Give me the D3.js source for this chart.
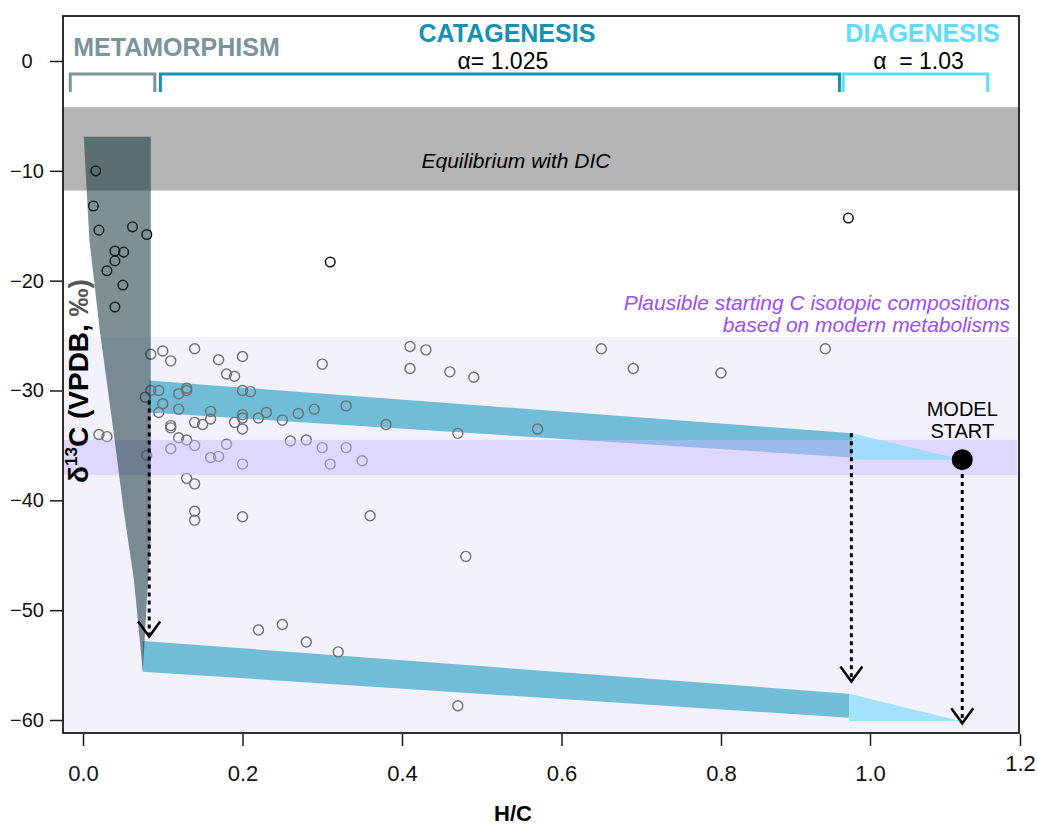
<!DOCTYPE html>
<meta charset="utf-8">
<style>
body { margin: 0; background: #fff; }
svg { display: block; font-family: "Liberation Sans", Arial, Helvetica, sans-serif; }
</style>
<svg width="1037" height="827"></svg>
<script src="https://cdn.jsdelivr.net/npm/d3@7"></script>
<script>

// sample compilation, H/C vs d13C (grey circles)
var sampleHc = [0.085, 0.10, 0.11, 0.14, 0.17, 0.20, 0.18, 0.19, 0.30,
  0.41, 0.43, 0.41, 0.46, 0.49, 0.65, 0.69, 0.80, 0.94,
  0.085, 0.095, 0.078, 0.12, 0.13, 0.13, 0.20, 0.21,
  0.10, 0.095, 0.12, 0.16, 0.16, 0.14, 0.15, 0.20, 0.20, 0.19, 0.20, 0.22, 0.23,
  0.25, 0.27, 0.29, 0.33, 0.38, 0.47, 0.57,
  0.11, 0.11, 0.12, 0.13, 0.14, 0.18, 0.26, 0.28,
  0.11, 0.08, 0.16, 0.17, 0.20, 0.30, 0.31, 0.33, 0.35,
  0.02, 0.03,
  0.13, 0.14, 0.14, 0.14, 0.20, 0.36, 0.48,
  0.22, 0.25, 0.28, 0.32, 0.47];
var sampleD13c = [-26.7, -26.4, -27.3, -26.2, -27.2, -26.9, -28.5, -28.7, -27.6,
  -26.0, -26.3, -28.0, -28.3, -28.8, -26.2, -28.0, -28.4, -26.2,
  -30.0, -30.0, -30.6, -30.3, -29.8, -30.0, -30.0, -30.1,
  -31.2, -32.0, -31.7, -31.9, -32.6, -32.9, -33.1, -32.2, -32.5, -32.9, -33.5, -32.5, -32.0,
  -32.7, -32.1, -31.7, -31.4, -33.1, -33.9, -33.5,
  -33.2, -33.4, -34.3, -34.5, -35.0, -34.9, -34.6, -34.5,
  -35.3, -35.9, -36.1, -36.0, -36.7, -35.2, -36.7, -35.2, -36.4,
  -34.0, -34.2,
  -38.0, -38.5, -41.0, -41.8, -41.5, -41.4, -45.1,
  -51.8, -51.3, -52.9, -53.8, -58.7];

// darker circles
var darkHc = [0.016, 0.013, 0.020, 0.062, 0.080, 0.040, 0.051, 0.040, 0.030, 0.050, 0.040, 0.31, 0.971];
var darkD13c = [-10.0, -13.2, -15.4, -15.1, -15.8, -17.3, -17.4, -18.2, -19.1, -20.4, -22.4, -18.3, -14.3];

var xTicks = [0, 0.2, 0.4, 0.6, 0.8, 1.0, 1.2];
var yTicks = [0, -10, -20, -30, -40, -50, -60];

// horizontal ranges of d13C
var dicBand = [-4.2, -11.8];
var modernTop = -25.1;
var plausibleBand = [-34.5, -37.7];

// metamorphism envelope
var metaHc = [0.001, 0.085, 0.085, 0.080, 0.075, 0.064, 0.051, 0.038, 0.021, 0.008];
var metaD13c = [-6.9, -6.9, -43.6, -49.1, -55.6, -47.3, -40.9, -33.6, -24.5, -16.3];

// catagenesis / diagenesis paths (upper and lower)
var cataUpHc = [0.083, 0.976, 0.976, 0.083];
var cataUpD13c = [-29.1, -33.9, -36.1, -32.0];
var diaUpHc = [0.976, 1.123, 0.976];
var diaUpD13c = [-33.9, -36.3, -36.3];
var cataLoHc = [0.075, 0.972, 0.972, 0.075];
var cataLoD13c = [-52.8, -57.6, -59.8, -55.6];
var diaLoHc = [0.972, 1.12, 0.972];
var diaLoD13c = [-57.6, -60.1, -60.1];

var modelStartHc = 1.123, modelStartD13c = -36.3;

var arrowHc = [0.083, 0.975, 1.123];
var arrowFrom = [-30.9, -33.9, -37.6];
var arrowTo = [-52.4, -56.5, -60.3];

var phaseNames = ["METAMORPHISM", "CATAGENESIS", "DIAGENESIS"];
var phaseAlpha = ["", "\u03b1= 1.025", "\u03b1  = 1.03"];
var phaseStart = [-0.016, 0.097, 0.964];
var phaseEnd = [0.090, 0.959, 1.157];
var phaseColors = ["#7a949c", "#1591b1", "#5fdcfb"];

var svg = d3.select("svg");
var frame = {left: 63, right: 1019, top: 16, bottom: 733};

// the x axis of the original is slightly uneven past 0.8
var x = d3.scaleLinear().domain([0, 0.8, 1.0, 1.2]).range([83, 721, 870, 1020]);
var y = d3.scaleLinear().domain([0, -60]).range([61, 720]);

var frameW = frame.right - frame.left;

function pts(xs, ys) {
  return xs.map(function(v, i) { return [x(v), y(ys[i])]; });
}
var poly = d3.line().curve(d3.curveLinearClosed);

// background regions
svg.append("rect")
    .attr("x", frame.left).attr("width", frameW)
    .attr("y", y(modernTop)).attr("height", frame.bottom - y(modernTop))
    .attr("fill", "#f3f2fc");

svg.append("rect")
    .attr("x", frame.left).attr("width", frameW)
    .attr("y", y(dicBand[0])).attr("height", y(dicBand[1]) - y(dicBand[0]))
    .attr("fill", "#b4b4b4");

svg.append("text")
    .attr("x", 516).attr("y", y(-9.75))
    .attr("text-anchor", "middle")
    .attr("font-size", 21).attr("font-style", "italic")
    .text("Equilibrium with DIC");

// catagenesis paths
[[cataUpHc, cataUpD13c], [cataLoHc, cataLoD13c]].forEach(function(p) {
  svg.append("path").attr("d", poly(pts(p[0], p[1])))
      .attr("fill", "#45aacb").attr("fill-opacity", 0.75);
});

// points
svg.append("g").selectAll("circle")
    .data(sampleHc)
    .enter().append("circle")
    .attr("cx", function(d) { return x(d); })
    .attr("cy", function(d, i) { return y(sampleD13c[i]); })
    .attr("r", 5)
    .attr("fill", "none")
    .attr("stroke", "#707070")
    .attr("stroke-width", 1.4);

svg.append("g").selectAll("circle")
    .data(darkHc)
    .enter().append("circle")
    .attr("cx", function(d) { return x(d); })
    .attr("cy", function(d, i) { return y(darkD13c[i]); })
    .attr("r", 4.8)
    .attr("fill", "none")
    .attr("stroke", "#111")
    .attr("stroke-width", 1.5);

svg.append("rect")
    .attr("x", frame.left).attr("width", frameW - 2)
    .attr("y", y(plausibleBand[0])).attr("height", y(plausibleBand[1]) - y(plausibleBand[0]))
    .attr("fill", "rgb(200,185,255)").attr("fill-opacity", 0.47);

// diagenesis paths sit above the plausible band
[[diaUpHc, diaUpD13c], [diaLoHc, diaLoD13c]].forEach(function(p) {
  svg.append("path").attr("d", poly(pts(p[0], p[1])))
      .attr("fill", "#8fdcfb").attr("fill-opacity", 0.8);
});

svg.append("path").attr("d", poly(pts(metaHc, metaD13c)))
    .attr("fill", "#0b2d35").attr("fill-opacity", 0.53);

// frame + axes
svg.append("rect")
    .attr("x", frame.left).attr("y", frame.top)
    .attr("width", frameW).attr("height", frame.bottom - frame.top)
    .attr("fill", "none").attr("stroke", "#1a1a1a").attr("stroke-width", 1.8);

var gy = svg.append("g")
    .attr("transform", "translate(" + frame.left + ",0)")
    .call(d3.axisLeft(y).tickValues(yTicks).tickSize(13).tickPadding(0));
gy.attr("font-family", null);
gy.select(".domain").remove();
gy.selectAll("line").attr("stroke", "#1a1a1a").attr("stroke-width", 1.5);
gy.selectAll("text")
    .attr("x", 27 - frame.left).attr("text-anchor", "middle")
    .attr("font-size", 20).attr("fill", "#111");

var gx = svg.append("g")
    .attr("transform", "translate(0," + (frame.bottom + 1) + ")")
    .call(d3.axisBottom(x).tickValues(xTicks).tickSize(12).tickFormat(d3.format(".1f")));
gx.attr("font-family", null);
gx.select(".domain").remove();
gx.selectAll("line").attr("stroke", "#1a1a1a").attr("stroke-width", 1.5);
gx.selectAll("text")
    .attr("y", 47).attr("dy", 0)
    .attr("font-size", 22).attr("fill", "#111")
    .filter(function(d) { return d === 1.2; }).attr("y", 37);

svg.append("text")
    .attr("x", 513).attr("y", 821)
    .attr("text-anchor", "middle")
    .attr("font-size", 22).attr("font-weight", "bold")
    .text("H/C");

var yl = svg.append("text")
    .attr("transform", "translate(88,381) rotate(-90)")
    .attr("text-anchor", "middle")
    .attr("font-size", 28).attr("font-weight", "bold");
yl.append("tspan").text("\u03b4");
yl.append("tspan").attr("font-size", 17).attr("dy", -11).text("13");
yl.append("tspan").attr("dy", 11).text("C (VPDB,  ");
yl.append("tspan").attr("fill", "#555").text("\u2030)");

// plausible start annotation
var pl = svg.append("text")
    .attr("text-anchor", "end")
    .attr("font-size", 21).attr("font-style", "italic")
    .attr("fill", "#9b4dff");
pl.append("tspan").attr("x", 1010).attr("y", 310).text("Plausible starting C isotopic compositions");
pl.append("tspan").attr("x", 1010).attr("y", 332).text("based on modern metabolisms");

// dotted arrows
arrowHc.forEach(function(h, i) {
  var ax = x(h), y0 = y(arrowFrom[i]), y1 = y(arrowTo[i]);
  svg.append("line")
      .attr("x1", ax).attr("x2", ax).attr("y1", y0).attr("y2", y1 - 2)
      .attr("stroke", "#000").attr("stroke-width", 3)
      .attr("stroke-dasharray", "4,4");
  svg.append("path")
      .attr("d", "M" + (ax - 11) + "," + (y1 - 15) + "L" + ax + "," + y1 + "L" + (ax + 11) + "," + (y1 - 15))
      .attr("fill", "none").attr("stroke", "#000").attr("stroke-width", 2.5);
});

svg.append("circle")
    .attr("cx", x(modelStartHc)).attr("cy", y(modelStartD13c))
    .attr("r", 10.5).attr("fill", "#000");

var ms = svg.append("text")
    .attr("text-anchor", "middle").attr("font-size", 20);
ms.append("tspan").attr("x", x(modelStartHc)).attr("y", 416).text("MODEL");
ms.append("tspan").attr("x", x(modelStartHc)).attr("y", 438).text("START");

// phase brackets
var yTop = 74, yLeg = 92;
phaseNames.forEach(function(name, i) {
  var x0 = x(phaseStart[i]), x1 = x(phaseEnd[i]);
  svg.append("path")
      .attr("d", "M" + x0 + "," + yLeg + "V" + yTop + "H" + x1 + "V" + yLeg)
      .attr("fill", "none").attr("stroke", phaseColors[i]).attr("stroke-width", 3);
  var t = svg.append("text")
      .attr("font-size", 25).attr("font-weight", "bold")
      .attr("fill", phaseColors[i])
      .text(name);
  if (i === 0) {
    t.attr("x", x0 + 3).attr("y", 56);
  } else {
    var cx = (x0 + x1) / 2 + 7;
    t.attr("x", cx).attr("y", 42).attr("text-anchor", "middle");
    svg.append("text")
        .attr("x", cx - 4).attr("y", 69)
        .attr("text-anchor", "middle").attr("font-size", 23)
        .attr("xml:space", "preserve")
        .text(phaseAlpha[i]);
  }
});

</script>
